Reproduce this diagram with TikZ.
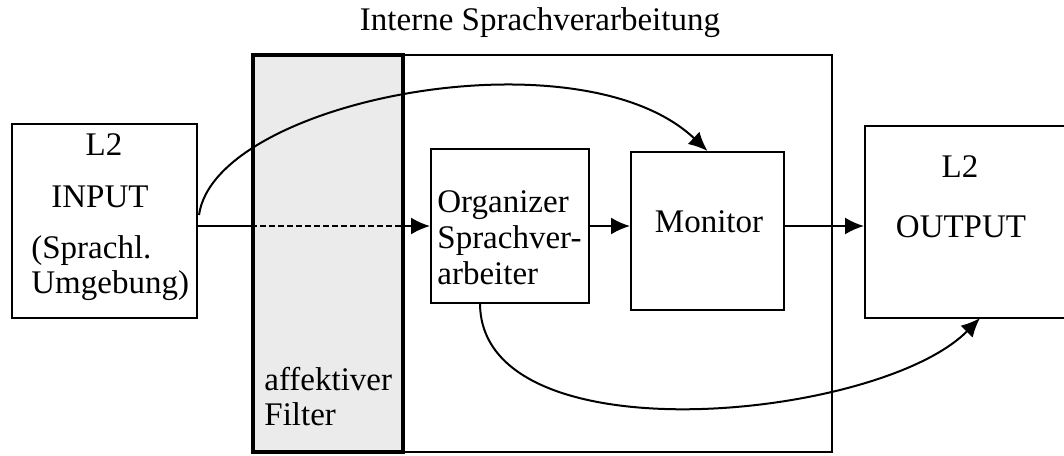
\documentclass[tikz,border=0pt]{standalone}
\usepackage{fontspec}
\setmainfont{Liberation Serif}
\usetikzlibrary{arrows.meta}
\begin{document}
\begin{tikzpicture}[x=0.5pt,y=-0.5pt,
  every node/.style={font=\fontsize{16.5}{18}\selectfont},
  box/.style={draw,line width=1pt,inner sep=0pt},
  lbl/.style={inner sep=0pt},
  arr/.style={line width=1pt,-{Latex[length=9.5pt,width=8.5pt]}},
  ln/.style={line width=1pt}]
\useasboundingbox (0,0) rectangle (1064,455);
\clip (0,0) rectangle (1064,455);
% boxes
\node[box,minimum width=289.5pt,minimum height=198.5pt] (big) at (542.5,253.5) {};
\node[box,line width=2pt,fill=black!8,minimum width=75pt,minimum height=198.5pt] (filt) at (328,253.5) {};
\node[box,minimum width=92.5pt,minimum height=97pt] (inp) at (104.5,221) {};
\node[box,minimum width=79pt,minimum height=77pt] (org) at (510,226) {};
\node[box,minimum width=76.5pt,minimum height=79pt] (mon) at (707.5,231) {};
\node[box,minimum width=107.5pt,minimum height=96pt] (out) at (972.5,222) {};
% texts
\node[lbl,anchor=base] (title) at (540,30) {Interne Sprachverarbeitung};
\node[lbl,anchor=base] (t1) at (104,155) {L2};
\node[lbl,anchor=base] (t2) at (100,207) {INPUT};
\node[lbl,anchor=base west] (t3) at (31,258) {(Sprachl.};
\node[lbl,anchor=base west] (t4) at (31,293) {Umgebung)};
\node[lbl,anchor=base west] (t5) at (437,212) {Organizer};
\node[lbl,anchor=base west] (t6) at (437,248) {Sprachver-};
\node[lbl,anchor=base west] (t7) at (437,284) {arbeiter};
\node[lbl,anchor=base] (t8) at (709,232) {Monitor};
\node[lbl,anchor=base] (t9) at (960,177) {L2};
\node[lbl,anchor=base] (t10) at (961,237) {OUTPUT};
\node[lbl,anchor=base west] (t11) at (264,390) {affektiver};
\node[lbl,anchor=base west] (t12) at (264,425) {Filter};
% connectors
\draw[ln] (org.west -| inp.east) -- (org.west -| filt.west);
\draw[ln,dashed,dash pattern=on 3pt off 1.5pt] (org.west -| filt.west) -- (org.west -| filt.east);
\draw[arr] (org.west -| filt.east) -- (org.west);
\draw[arr] (org.east) -- (org.east -| mon.west);
\draw[arr] (org.east -| mon.east) -- (org.east -| out.west);
\coordinate (c1) at (199,215);
\draw[arr] (c1) .. controls (215,100) and (580,30) .. (mon.north);
\coordinate (c2) at (480,303);
\coordinate (c3) at (980,318);
\draw[arr] (c2) .. controls (480,460) and (880,420) .. (c3);
\end{tikzpicture}
\end{document}
